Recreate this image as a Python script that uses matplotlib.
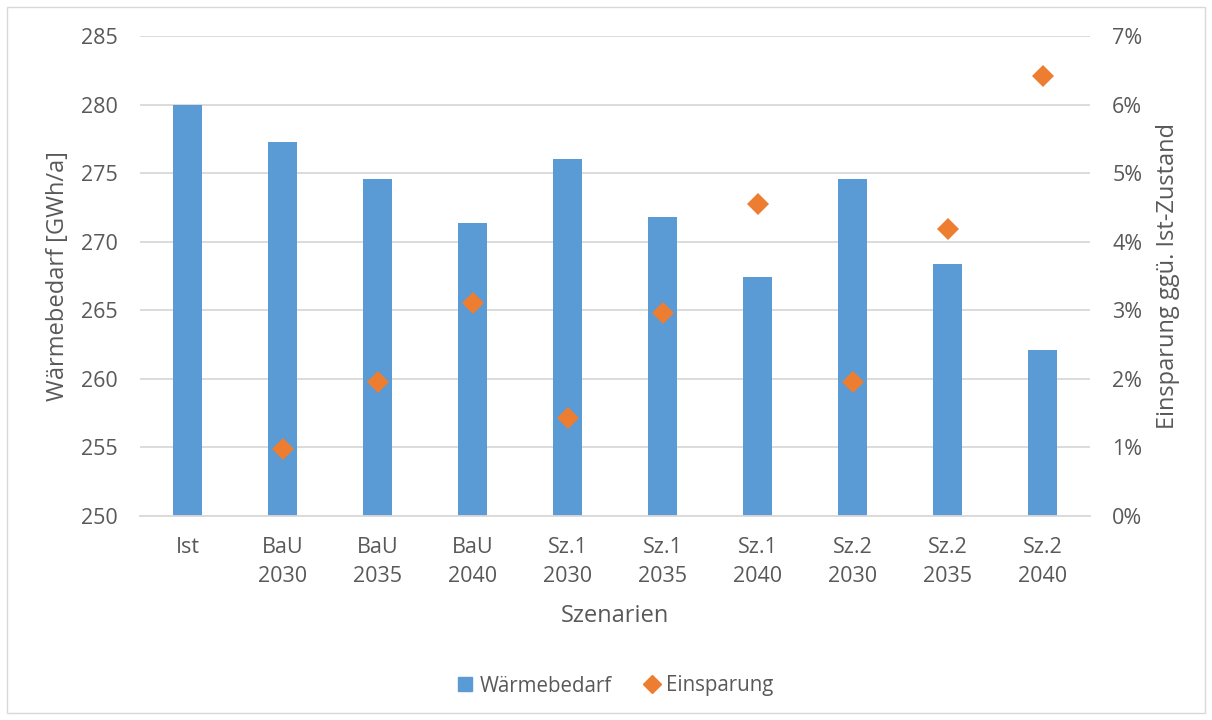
import matplotlib.pyplot as plt
import numpy as np
from matplotlib.patches import Rectangle
from matplotlib.lines import Line2D
from matplotlib.ticker import FuncFormatter

# data
szenarien = ["Ist", "BaU\n2030", "BaU\n2035", "BaU\n2040", "Sz.1\n2030",
             "Sz.1\n2035", "Sz.1\n2040", "Sz.2\n2030", "Sz.2\n2035", "Sz.2\n2040"]
waermebedarf = [280.0, 277.3, 274.6, 271.4, 276.0, 271.8, 267.4, 274.6, 268.4, 262.1]
einsparung = [np.nan, 0.98, 1.95, 3.10, 1.43, 2.96, 4.55, 1.95, 4.19, 6.42]

BLUE = "#5B9BD5"
ORANGE = "#ED7D31"
TXT = "#595959"
GRID = "#D9D9D9"

plt.rcParams.update({
    "font.family": ["Open Sans", "DejaVu Sans"],
    "font.size": 15.5,
    "text.color": TXT,
    "axes.labelcolor": TXT,
    "xtick.color": TXT,
    "ytick.color": TXT,
})

fig = plt.figure(figsize=(12.12, 7.2), dpi=100)
ax = fig.add_axes([140 / 1212, 1 - 516 / 720, 950 / 1212, 480 / 720])
ax2 = ax.twinx()

x = np.arange(len(szenarien))
ax.bar(x, waermebedarf, width=0.31, color=BLUE, zorder=2)
ax2.plot(x, einsparung, linestyle="none", marker="D", markersize=11.5,
         color=ORANGE, markeredgewidth=0, zorder=3)

ax.set_xlim(-0.5, len(szenarien) - 0.5)
ax.set_ylim(250, 285)
ax.set_yticks(np.arange(250, 286, 5))
ax2.set_ylim(0, 7)
ax2.set_yticks(np.arange(0, 8, 1))
ax2.yaxis.set_major_formatter(FuncFormatter(lambda v, p: f"{v:.0f}%"))

ax.set_xticks(x)
ax.set_xticklabels(szenarien, linespacing=1.5)
ax.grid(axis="y", color=GRID, linewidth=1.3, zorder=0)
ax.set_axisbelow(True)

for a in (ax, ax2):
    for s in a.spines.values():
        s.set_visible(False)
ax.spines["bottom"].set_visible(True)
ax.spines["bottom"].set_color(GRID)
ax.spines["bottom"].set_linewidth(1.3)

ax.tick_params(axis="both", length=0)
ax2.tick_params(axis="both", length=0)
ax.tick_params(axis="y", pad=16)
ax2.tick_params(axis="y", pad=16)
ax.tick_params(axis="x", pad=15)

ax.set_xlabel("Szenarien", fontsize=17, labelpad=12)
ax.set_ylabel("Wärmebedarf [GWh/a]", fontsize=17, labelpad=8)
ax2.set_ylabel("Einsparung ggü. Ist-Zustand", fontsize=17, labelpad=10)

handles = [
    Line2D([], [], linestyle="none", marker="s", markersize=10, color=BLUE),
    Line2D([], [], linestyle="none", marker="D", markersize=9, color=ORANGE),
]
fig.legend(handles, ["Wärmebedarf", "Einsparung"], loc="center",
           bbox_to_anchor=(616 / 1212, 1 - 686 / 720), ncol=2, frameon=False,
           handlelength=0.7, handletextpad=0.35, columnspacing=1.6, fontsize=14.8)

fig.patches.append(Rectangle((7 / 1212, 7 / 720), 1 - 14 / 1212, 1 - 14 / 720,
                             transform=fig.transFigure, fill=False,
                             edgecolor=GRID, linewidth=1))

fig.savefig("out.png", dpi=100, facecolor="white")
